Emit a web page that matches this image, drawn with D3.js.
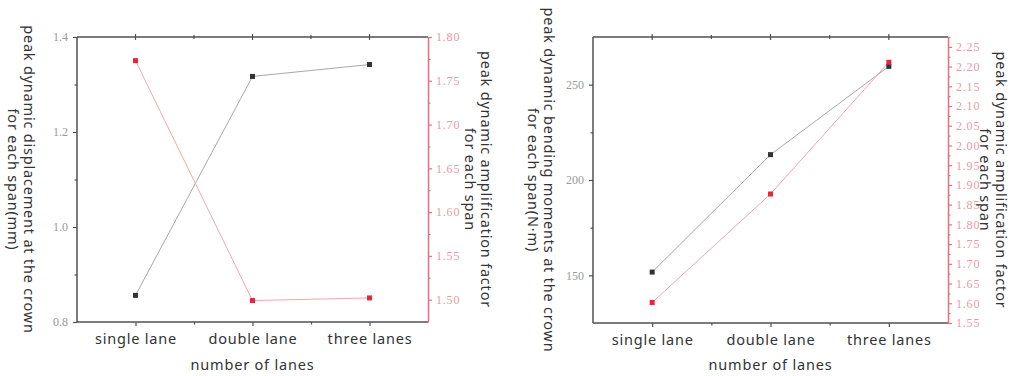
<!DOCTYPE html>
<html>
<head>
<meta charset="utf-8">
<script src="https://cdn.jsdelivr.net/npm/d3@7"></script>
<style>
	body { margin: 0; background: #fff; }
	svg { display: block; }
	.title { font-family: "Noto Sans", "DejaVu Sans", sans-serif; font-size: 14.5px; letter-spacing: 0.8px; fill: #333; }
	.tick-label { font-family: "Liberation Serif", "DejaVu Serif", serif; font-size: 12px; }
</style>
</head>
<body>
<svg id="chart" width="1011" height="376"></svg>
<script>
// categories (x)
var lanes = ['single lane', 'double lane', 'three lanes'];

// panel A: displacement / amplification
var displacement = [0.856, 1.317, 1.342];
var ampA = [1.773, 1.499, 1.502];
var dispTicks = [0.8, 1.0, 1.2, 1.4];
var dispMinor = [0.9, 1.1, 1.3];
var ampATicks = [1.50, 1.55, 1.60, 1.65, 1.70, 1.75, 1.80];
var ampAMinor = [1.525, 1.575, 1.625, 1.675, 1.725, 1.775];

// panel B: bending moment / amplification
var moment = [151.7, 213.3, 259.6];
var ampB = [1.602, 1.877, 2.211];
var momentTicks = [150, 200, 250];
var momentMinor = [175, 225];
var ampBTicks = [1.55, 1.60, 1.65, 1.70, 1.75, 1.80, 1.85, 1.90, 1.95, 2.00, 2.05, 2.10, 2.15, 2.20, 2.25];
var ampBMinor = [1.575, 1.625, 1.675, 1.725, 1.775, 1.825, 1.875, 1.925, 1.975, 2.025, 2.075, 2.125, 2.175, 2.225, 2.275];

const svg = d3.select('#chart');

const FRAME = '#505050';
const RED_AXIS = '#e8707e';
const RED_TITLE = '#dc2a40';
const RED_TICK = '#e89aa3';

function drawPanel(p) {
	const g = svg.append('g');
	const x = d3.scaleLinear().domain([0.5, 3.5]).range([p.left, p.right]);
	const yL = d3.scaleLinear().domain(p.leftDomain).range([p.bottom, p.top]);
	const yR = d3.scaleLinear().domain(p.rightDomain).range([p.bottom, p.top]);
	const idx = lanes.map((d, i) => i + 1);

	// frame (top + bottom + left)
	g.append('line').attr('x1', p.left).attr('x2', p.right).attr('y1', p.top).attr('y2', p.top)
		.attr('stroke', FRAME).attr('stroke-width', 1.5);
	g.append('line').attr('x1', p.left).attr('x2', p.right).attr('y1', p.bottom).attr('y2', p.bottom)
		.attr('stroke', FRAME).attr('stroke-width', 1.5);
	g.append('line').attr('x1', p.left).attr('x2', p.left).attr('y1', p.top).attr('y2', p.bottom)
		.attr('stroke', FRAME).attr('stroke-width', 1.5);

	// x ticks
	const xMajor = d3.axisBottom(x).tickValues(idx).tickFormat((d, i) => lanes[i]).tickSizeOuter(0).tickSize(4).tickPadding(8);
	const gx = g.append('g').attr('transform', `translate(0,${p.bottom})`).call(xMajor);
	gx.select('.domain').remove();
	gx.selectAll('line').attr('stroke', FRAME).attr('stroke-width', 1.2);
	gx.selectAll('text').attr('class', 'title').attr('fill', '#333');
	const gxm = g.append('g').attr('transform', `translate(0,${p.bottom})`)
		.call(d3.axisBottom(x).tickValues([1.5, 2.5]).tickFormat('').tickSize(2.5).tickSizeOuter(0));
	gxm.select('.domain').remove();
	gxm.selectAll('line').attr('stroke', FRAME).attr('stroke-width', 1.2);

	// top ticks crossing line
	[1, 1.5, 2, 2.5, 3].forEach(v => {
		const len = Number.isInteger(v) ? 3 : 2;
		g.append('line').attr('x1', x(v)).attr('x2', x(v)).attr('y1', p.top - len).attr('y2', p.top + len)
			.attr('stroke', FRAME).attr('stroke-width', 1.2);
	});

	// left axis
	const gl = g.append('g').attr('transform', `translate(${p.left},0)`)
		.call(d3.axisLeft(yL).tickValues(p.leftTicks).tickFormat(p.leftFormat).tickSize(4).tickSizeOuter(0).tickPadding(5));
	gl.select('.domain').remove();
	gl.selectAll('line').attr('stroke', FRAME).attr('stroke-width', 1.2);
	gl.selectAll('text').attr('class', 'tick-label').attr('fill', '#9a9a9a');
	const glm = g.append('g').attr('transform', `translate(${p.left},0)`)
		.call(d3.axisLeft(yL).tickValues(p.leftMinor).tickFormat('').tickSize(2.5).tickSizeOuter(0));
	glm.select('.domain').remove();
	glm.selectAll('line').attr('stroke', FRAME).attr('stroke-width', 1.2);

	// right axis (red)
	const gr = g.append('g').attr('transform', `translate(${p.right},0)`)
		.call(d3.axisRight(yR).tickValues(p.rightTicks).tickFormat(d3.format('.2f')).tickSize(4).tickSizeOuter(0).tickPadding(4));
	gr.select('.domain').attr('stroke', RED_AXIS).attr('stroke-width', 1.5);
	gr.selectAll('line').attr('stroke', RED_AXIS).attr('stroke-width', 1.2);
	gr.selectAll('text').attr('class', 'tick-label').attr('fill', RED_TICK).style('letter-spacing', '0.8px');
	const grm = g.append('g').attr('transform', `translate(${p.right},0)`)
		.call(d3.axisRight(yR).tickValues(p.rightMinor).tickFormat('').tickSize(2.5).tickSizeOuter(0));
	grm.select('.domain').remove();
	grm.selectAll('line').attr('stroke', RED_AXIS).attr('stroke-width', 1.2);

	// series lines
	const lineL = d3.line().x((d, i) => x(i + 1)).y(d => yL(d));
	const lineR = d3.line().x((d, i) => x(i + 1)).y(d => yR(d));
	g.append('path').attr('d', lineL(p.leftData)).attr('fill', 'none').attr('stroke', '#a8a8a8').attr('stroke-width', 1);
	g.append('path').attr('d', lineR(p.rightData)).attr('fill', 'none').attr('stroke', '#f4a6ae').attr('stroke-width', 1);

	// markers
	const s = 5;
	g.append('g').selectAll('rect').data(p.leftData).enter().append('rect')
		.attr('x', (d, i) => x(i + 1) - s / 2).attr('y', d => yL(d) - s / 2)
		.attr('width', s).attr('height', s).attr('fill', '#333');
	g.append('g').selectAll('rect').data(p.rightData).enter().append('rect')
		.attr('x', (d, i) => x(i + 1) - s / 2).attr('y', d => yR(d) - s / 2)
		.attr('width', s).attr('height', s).attr('fill', '#e4283c');

	// x title
	g.append('text').attr('class', 'title')
		.attr('x', (p.left + p.right) / 2).attr('y', 370)
		.attr('text-anchor', 'middle').text('number of lanes');

	// rotated titles
	function vTitle(xPos, lines, color) {
		const yc = (p.top + p.bottom) / 2;
		lines.forEach((t, i) => {
			g.append('text').attr('class', 'title')
				.attr('transform', `translate(${xPos - i * 16.5},${yc}) rotate(90)`)
				.attr('text-anchor', 'middle').attr('dominant-baseline', 'central')
				.attr('fill', color).text(t);
		});
	}
	vTitle(p.leftTitleX, p.leftTitle, '#333');
	vTitle(p.rightTitleX, p.rightTitle, RED_TITLE);
}

drawPanel({
	left: 77, right: 428, top: 37, bottom: 322,
	leftDomain: [0.8, 1.4], rightDomain: [1.4745, 1.80],
	leftTicks: dispTicks, leftMinor: dispMinor, leftFormat: d3.format('.1f'),
	rightTicks: ampATicks, rightMinor: ampAMinor,
	leftData: displacement, rightData: ampA,
	leftTitleX: 30, leftTitle: ['peak dynamic displacement at the crown', 'for each span(mm)'],
	rightTitleX: 487, rightTitle: ['peak dynamic amplification factor', 'for each span']
});

drawPanel({
	left: 593, right: 948, top: 37, bottom: 323,
	leftDomain: [125, 275], rightDomain: [1.55, 2.275],
	leftTicks: momentTicks, leftMinor: momentMinor, leftFormat: d3.format('d'),
	rightTicks: ampBTicks, rightMinor: ampBMinor,
	leftData: moment, rightData: ampB,
	leftTitleX: 550, leftTitle: ['peak dynamic bending moments at the crown', 'for each span(N\u00b7m)'],
	rightTitleX: 1002, rightTitle: ['peak dynamic amplification factor', 'for each span']
});
</script>
</body>
</html>
